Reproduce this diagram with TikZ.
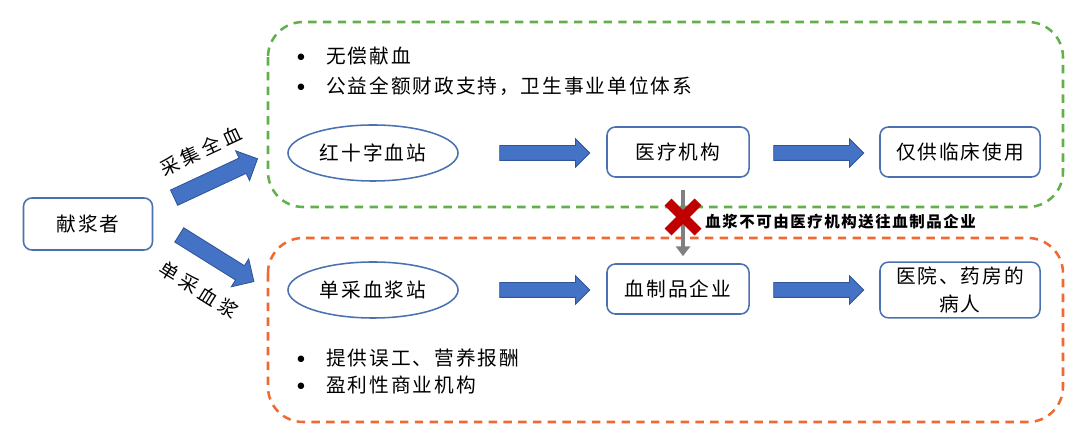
\documentclass[tikz,border=0pt]{standalone}
\usepackage{fontspec}
\setmainfont{Noto Sans CJK SC}[LetterSpace=10]
\newfontfamily\dotfont{DejaVu Sans}
\usetikzlibrary{calc,positioning,shapes.geometric,shapes.arrows,arrows.meta}

\definecolor{boxblue}{HTML}{4A72B0}
\definecolor{arrblue}{HTML}{4472C4}
\definecolor{arrline}{HTML}{2F5597}
\definecolor{zonegreen}{HTML}{62B04A}
\definecolor{zoneorange}{HTML}{EF6A32}
\definecolor{crossred}{HTML}{C00000}
\definecolor{passgray}{HTML}{808080}

\tikzset{
  rbox/.style={draw=boxblue, line width=1.1pt, rounded corners=6pt, fill=white,
    minimum width=3.55cm, minimum height=1.25cm, align=center,
    font=\fontsize{14}{18}\selectfont},
  oval/.style={ellipse, draw=boxblue, line width=1.1pt, fill=white,
    minimum width=4.25cm, minimum height=1.4cm,
    font=\fontsize{14}{18}\selectfont},
  blockarr/.style={single arrow, draw=arrline, fill=arrblue, line width=0.6pt,
    inner xsep=0pt, inner ysep=0.175cm, single arrow head extend=0.17cm,
    minimum height=2.25cm},
  zone/.style={line width=1.8pt, rounded corners=25pt, dash pattern=on 6pt off 4.5pt},
  bullitem/.style={anchor=west, inner sep=0pt, font=\fontsize{14}{16}\selectfont},
  sidelabel/.style={font=\fontsize{13.5}{16}\selectfont\addfontfeature{LetterSpace=22}, inner sep=0pt},
  crossline/.style={crossred, line width=7pt}
}

\newcommand{\bul}[1]{\makebox[0.72cm][l]{\raisebox{0.35ex}{\dotfont\fontsize{6}{6}\selectfont ●}}#1}

\begin{document}
\begin{tikzpicture}[x=0.025cm, y=-0.025cm]
\useasboundingbox (0,0) rectangle (1080,438);

% Dashed zones
\draw[zone, zonegreen] (268,22) rectangle (1063,207);
\draw[zone, zoneorange] (268,238) rectangle (1063,422);

% Donor
\node[rbox, minimum width=3.225cm, minimum height=1.3cm] (donor) at (88,224) {献浆者};

% Upper chain
\node[oval] (redcross) at (373,153) {红十字血站};
\node[rbox] (hospital) at (678,152) {医疗机构};
\node[rbox, minimum width=4cm] (clinic) at (960,152) {仅供临床使用};

% Lower chain
\node[oval] (plasmast) at (373,290) {单采血浆站};
\node[rbox] (maker) at (678,289) {血制品企业};
\node[rbox, minimum width=4cm, font=\fontsize{14}{20}\selectfont] (patient) at (960,290) {医院、药房的\\病人};

% Bullets
\node[bullitem] (b1) at (297,56) {\bul{无偿献血}};
\node[bullitem] (b2) at (297,86) {\bul{公益全额财政支持，卫生事业单位体系}};
\node[bullitem] (b3) at (297,358) {\bul{提供误工、营养报酬}};
\node[bullitem] (b4) at (297,385) {\bul{盈利性商业机构}};

% Block arrows
\node[blockarr, rotate=25, minimum height=2.3cm, inner ysep=0.2cm, single arrow head extend=0.2cm] (upper) at (212,180) {};
\node[blockarr, rotate=-32, minimum height=2.2cm, inner ysep=0.2cm, single arrow head extend=0.2cm] (lower) at (213,256) {};
\node[blockarr] (a1) at (541,153) {};
\node[blockarr] (a2) at (815,153) {};
\node[blockarr] (a3) at (541,290) {};
\node[blockarr] (a4) at (815,290) {};

% Arrow labels
\node[sidelabel, rotate=25] (whole) at (201,151) {采集全血};
\node[sidelabel, rotate=-32] (single) at (199,290) {单采血浆};

% Blocked route
\draw[passgray, line width=3.5pt, -{Triangle[length=7pt, width=10pt]},
  shorten <=9pt, shorten >=5pt]
  ([xshift=0.125cm]hospital.south) -- ([xshift=0.125cm]maker.north);
\coordinate (stop) at (683,217);
\draw[crossline] ($(stop)+(-15,-15)$) -- ($(stop)+(15,15)$);
\draw[crossline] ($(stop)+(-15,15)$) -- ($(stop)+(15,-15)$);
\node[anchor=west, inner sep=0pt, font=\fontsize{11}{12}\bfseries] (note) at (705,222)
  {血浆不可由医疗机构送往血制品企业};

\end{tikzpicture}
\end{document}
